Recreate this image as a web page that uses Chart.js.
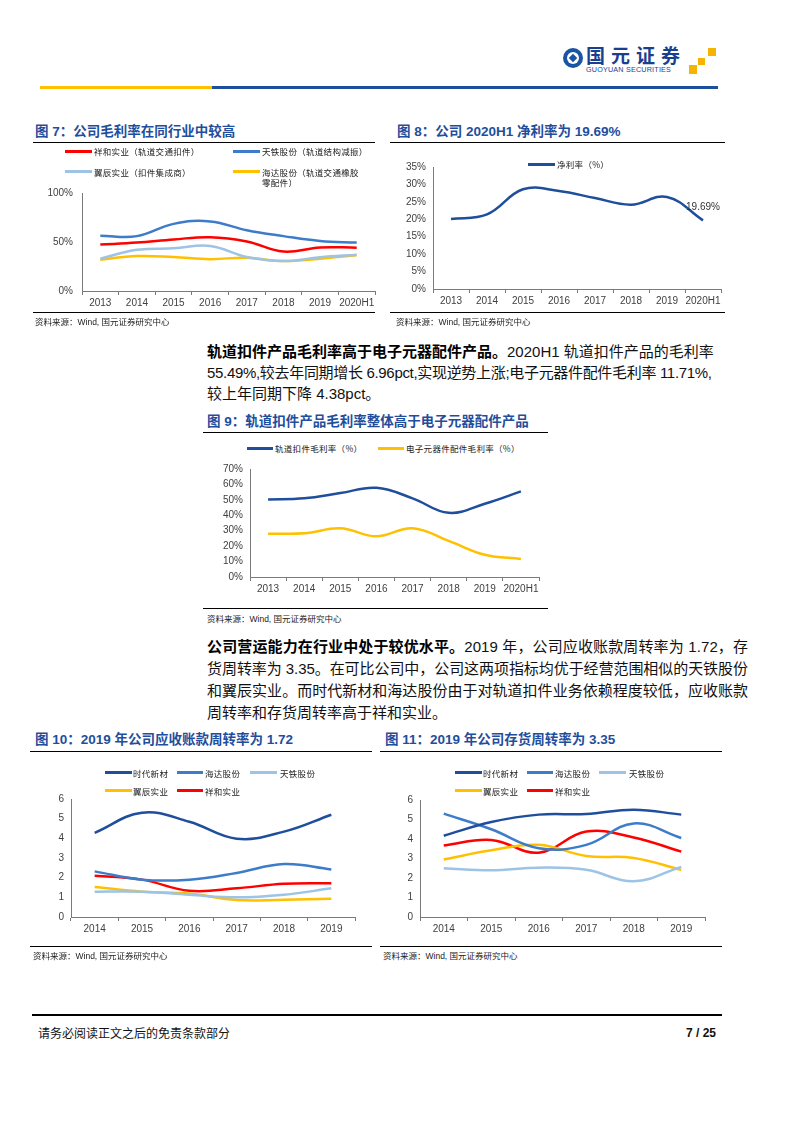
<!DOCTYPE html>
<html><head><meta charset="utf-8">
<script src="https://cdn.jsdelivr.net/npm/chart.js@4"></script>
<style>
html,body{margin:0;padding:0;background:#fff;}
#page{position:relative;width:793px;height:1122px;overflow:hidden;background:#fff;font-family:"Liberation Sans","Noto Sans CJK SC",sans-serif;}
.a{position:absolute;white-space:nowrap;}
.ttl{position:absolute;white-space:nowrap;font-size:13.5px;line-height:16px;font-weight:700;color:#1f4e9c;}
.hl{position:absolute;height:1px;background:#000;}
.src{position:absolute;white-space:nowrap;font-size:8.5px;line-height:10px;color:#222;}
.lg{position:absolute;white-space:nowrap;font-size:8.5px;line-height:10px;color:#222;letter-spacing:0.3px;font-family:"Noto Sans CJK SC","Liberation Sans",sans-serif;}
.ll{position:absolute;height:3px;}
.p{position:absolute;left:207px;font-size:15px;line-height:21px;color:#111;white-space:nowrap;}
.p b{font-weight:700;color:#000;}
.cw{position:absolute;}
</style></head>
<body><div id="page">
<!-- header -->
<div class="a" style="left:563px;top:48px;width:20px;height:20px;border-radius:50%;background:#1a55a5;"></div>
<div class="a" style="left:567px;top:52px;width:12px;height:12px;border-radius:50%;background:#fff;"></div>
<div class="a" style="left:570px;top:55px;width:6px;height:6px;background:#1a55a5;transform:rotate(45deg);"></div>
<div class="a" style="left:586px;top:44px;font-size:19px;line-height:22px;font-weight:700;color:#1a3f8f;letter-spacing:6px;font-family:'Noto Sans CJK SC',sans-serif;">国元证券</div>
<div class="a" style="left:586px;top:66px;font-size:7.2px;line-height:8px;color:#1a3f8f;letter-spacing:0.2px;">GUOYUAN SECURITIES</div>
<div class="a" style="left:708px;top:48px;width:8px;height:8px;background:#f5b400;"></div>
<div class="a" style="left:698px;top:58px;width:7px;height:7px;background:#f5b400;"></div>
<div class="a" style="left:689px;top:65px;width:8px;height:9px;background:#f5b400;"></div>
<div class="a" style="left:40px;top:86px;width:172px;height:2.5px;background:#ffc000;"></div>
<div class="a" style="left:212px;top:86px;width:506px;height:2.5px;background:#1f4e9c;"></div>

<!-- fig 7 -->
<div class="ttl" style="left:35px;top:124px;">图 7：公司毛利率在同行业中较高</div>
<div class="hl" style="left:33px;top:142px;width:342px;"></div>
<div class="hl" style="left:33px;top:312px;width:342px;"></div>
<div class="src" style="left:35px;top:317px;">资料来源：Wind, 国元证券研究中心</div>
<!-- fig 8 -->
<div class="ttl" style="left:397px;top:124px;">图 8：公司 2020H1 净利率为 19.69%</div>
<div class="hl" style="left:390px;top:142px;width:335px;"></div>
<div class="hl" style="left:390px;top:312px;width:335px;"></div>
<div class="src" style="left:396px;top:317px;">资料来源：Wind, 国元证券研究中心</div>

<!-- paragraph 1 -->
<div class="p" style="top:341px;"><b>轨道扣件产品毛利率高于电子元器配件产品。</b>2020H1 轨道扣件产品的毛利率</div>
<div class="p fit" data-w="505" style="top:362px;">55.49%,较去年同期增长 6.96pct,实现逆势上涨;电子元器件配件毛利率 11.71%,</div>
<div class="p" style="top:383px;">较上年同期下降 4.38pct。</div>

<!-- fig 9 -->
<div class="ttl" style="left:207px;top:414px;">图 9：轨道扣件产品毛利率整体高于电子元器配件产品</div>
<div class="hl" style="left:203px;top:432px;width:345px;"></div>
<div class="hl" style="left:203px;top:608px;width:345px;"></div>
<div class="src" style="left:207px;top:614px;">资料来源：Wind, 国元证券研究中心</div>

<!-- paragraph 2 -->
<div class="p fit" data-w="541" style="top:636px;"><b>公司营运能力在行业中处于较优水平。</b>2019 年，公司应收账款周转率为 1.72，存</div>
<div class="p fit" data-w="541" style="top:658px;">货周转率为 3.35。在可比公司中，公司这两项指标均优于经营范围相似的天铁股份</div>
<div class="p fit" data-w="541" style="top:680px;">和翼辰实业。而时代新材和海达股份由于对轨道扣件业务依赖程度较低，应收账款</div>
<div class="p" style="top:702px;">周转率和存货周转率高于祥和实业。</div>

<!-- fig 10 / 11 -->
<div class="ttl" style="left:35px;top:732px;">图 10：2019 年公司应收账款周转率为 1.72</div>
<div class="hl" style="left:30px;top:751px;width:342px;"></div>
<div class="hl" style="left:30px;top:946px;width:342px;"></div>
<div class="src" style="left:33px;top:951px;">资料来源：Wind, 国元证券研究中心</div>
<div class="ttl" style="left:385px;top:732px;">图 11：2019 年公司存货周转率为 3.35</div>
<div class="hl" style="left:380px;top:751px;width:342px;"></div>
<div class="hl" style="left:380px;top:946px;width:342px;"></div>
<div class="src" style="left:383px;top:951px;">资料来源：Wind, 国元证券研究中心</div>

<!-- footer -->
<div class="a" style="left:32px;top:1014px;width:690px;height:2px;background:#000;"></div>
<div class="a" style="left:38px;top:1026px;font-size:12px;line-height:14px;color:#111;font-family:'Noto Sans CJK SC',sans-serif;">请务必阅读正文之后的免责条款部分</div>
<div class="a" style="left:686px;top:1026px;font-size:12px;line-height:14px;font-weight:700;color:#111;">7 / 25</div>
</div>
<script>
// ---------- data ----------
const years8 = ['2013','2014','2015','2016','2017','2018','2019','2020H1'];
const years6 = ['2014','2015','2016','2017','2018','2019'];
// Fig 7 gross margin (%)
const gmXianghe = [47.4, 49.4, 52.6, 54.9, 50.6, 40.3, 44.5, 44.2];
const gmTiantie = [56.5, 56.0, 68.5, 71.0, 62.0, 56.0, 51.0, 49.4];
const gmYichen  = [33.0, 42.0, 43.5, 46.0, 34.7, 30.5, 34.5, 37.0];
const gmHaida   = [32.0, 35.7, 34.7, 32.5, 34.0, 30.5, 33.0, 36.4];
// Fig 8 net margin (%)
const netMargin = [20.1, 21.4, 28.6, 28.1, 26.1, 24.2, 26.4, 19.69];
const netLabel = '19.69%';
// Fig 9 gross margin by product (%)
const gmFastener   = [50.2, 51.0, 54.4, 57.8, 51.0, 41.6, 47.5, 55.49];
const gmElectronic = [28.1, 28.3, 31.6, 26.4, 31.6, 23.4, 14.4, 11.71];
// Fig 10 receivables turnover
const arShidai  = [4.28, 5.30, 4.84, 3.98, 4.34, 5.20];
const arHaida   = [2.32, 1.90, 1.90, 2.24, 2.69, 2.42];
const arTiantie = [1.29, 1.29, 1.13, 1.00, 1.13, 1.46];
const arYichen  = [1.53, 1.29, 1.19, 0.86, 0.88, 0.93];
const arXianghe = [2.10, 1.90, 1.33, 1.46, 1.69, 1.72];
// Fig 11 inventory turnover
const invShidai  = [4.17, 4.87, 5.25, 5.28, 5.50, 5.25];
const invHaida   = [5.30, 4.50, 3.53, 3.70, 4.80, 4.05];
const invTiantie = [2.50, 2.40, 2.53, 2.42, 1.83, 2.57];
const invYichen  = [2.95, 3.42, 3.70, 3.13, 3.03, 2.42];
const invXianghe = [3.67, 3.95, 3.30, 4.38, 4.08, 3.35];
// tick settings
const ticks7 = {max:100, step:50, suffix:'%'};
const ticks8 = {max:35, step:5, suffix:'%'};
const ticks9 = {max:70, step:10, suffix:'%'};
const ticksT = {max:6, step:1, suffix:''};

// ---------- fit justified text lines ----------
document.querySelectorAll('.fit').forEach(el => {
  const target = parseFloat(el.dataset.w);
  const w = el.getBoundingClientRect().width;
  const n = el.textContent.length;
  el.style.letterSpacing = ((target - w) / (n - 1)) + 'px';
});

// ---------- styles ----------
const C = {red:'#ff0000', mid:'#3d7cc9', light:'#9dc3e6', yellow:'#ffc000', dark:'#1f4e9c'};
const AXIS = '#7a7a7a';
const page = document.getElementById('page');

function ds(label, data, color){
  return {label, data, borderColor:color, backgroundColor:color, borderWidth:2.5,
          tension:0.4, pointRadius:0, pointHoverRadius:0, fill:false};
}

function makeChart(box, labels, datasets, tk, yPad, plugins){
  const YW = 50, PT = 10, PR = 25, XH = 24;
  const L = box.l - YW, T = box.t - PT;
  const W = box.r - L + PR, H = box.b - T + XH;
  const wrap = document.createElement('div');
  wrap.className = 'cw';
  wrap.style.left = L + 'px'; wrap.style.top = T + 'px';
  wrap.style.width = W + 'px'; wrap.style.height = H + 'px';
  const cv = document.createElement('canvas');
  cv.width = W; cv.height = H;
  cv.style.width = W + 'px'; cv.style.height = H + 'px';
  wrap.appendChild(cv);
  page.insertBefore(wrap, page.firstChild);
  return new Chart(cv, {
    type:'line',
    data:{labels, datasets},
    options:{
      responsive:false, animation:false, devicePixelRatio:1,
      layout:{padding:{top:PT, right:PR, left:0, bottom:0}},
      plugins:{legend:{display:false}, tooltip:{enabled:false}},
      scales:{
        x:{offset:true,
           grid:{display:true, offset:true, drawOnChartArea:false, drawTicks:true, tickLength:4, color:AXIS},
           border:{display:true, color:AXIS, width:1},
           ticks:{autoSkip:false, maxRotation:0, minRotation:0, padding:2, color:'#404040',
                  font:{family:'Liberation Sans', size:10}},
           afterFit(s){ s.height = XH; }},
        y:{min:0, max:tk.max,
           grid:{display:false, drawTicks:false},
           border:{display:true, color:AXIS, width:1},
           ticks:{stepSize:tk.step, padding:yPad, color:'#404040',
                  font:{family:'Liberation Sans', size:10},
                  callback:(v)=> v + tk.suffix},
           afterFit(s){ s.width = YW; }}
      }
    },
    plugins: plugins || []
  });
}

const endLabel = {
  id:'endLabel',
  afterDatasetsDraw(chart){
    const meta = chart.getDatasetMeta(0);
    const p = meta.data[meta.data.length - 1];
    const ctx = chart.ctx;
    ctx.save();
    ctx.font = '10px "Liberation Sans"';
    ctx.fillStyle = '#333';
    ctx.textAlign = 'center';
    ctx.textBaseline = 'middle';
    ctx.fillText(netLabel, p.x, p.y - 13.5);
    ctx.restore();
  }
};

makeChart({l:82, t:188, r:375, b:291}, years8, [
  ds('祥和实业（轨道交通扣件）', gmXianghe, C.red),
  ds('天铁股份（轨道结构减振）', gmTiantie, C.mid),
  ds('翼辰实业（扣件集成商）', gmYichen, C.light),
  ds('海达股份（轨道交通橡胶零配件）', gmHaida, C.yellow)
], ticks7, 9);

makeChart({l:433, t:164, r:721, b:289}, years8, [
  ds('净利率（%）', netMargin, C.dark)
], ticks8, 7, [endLabel]);

makeChart({l:250, t:466, r:539, b:577}, years8, [
  ds('轨道扣件毛利率（%）', gmFastener, C.dark),
  ds('电子元器件配件毛利率（%）', gmElectronic, C.yellow)
], ticks9, 7);

makeChart({l:71, t:796, r:355, b:917}, years6, [
  ds('时代新材', arShidai, C.dark),
  ds('海达股份', arHaida, C.mid),
  ds('天铁股份', arTiantie, C.light),
  ds('翼辰实业', arYichen, C.yellow),
  ds('祥和实业', arXianghe, C.red)
], ticksT, 7);

makeChart({l:420, t:797, r:705, b:917}, years6, [
  ds('时代新材', invShidai, C.dark),
  ds('海达股份', invHaida, C.mid),
  ds('天铁股份', invTiantie, C.light),
  ds('翼辰实业', invYichen, C.yellow),
  ds('祥和实业', invXianghe, C.red)
], ticksT, 7);

// ---------- HTML legends ----------
function leg(x1, x2, y, color, tx, text){
  const l = document.createElement('div');
  l.className = 'll';
  l.style.left = x1 + 'px'; l.style.top = (y - 1.5) + 'px';
  l.style.width = (x2 - x1) + 'px'; l.style.background = color;
  page.appendChild(l);
  const t = document.createElement('div');
  t.className = 'lg';
  t.style.left = tx + 'px'; t.style.top = (y - 5) + 'px';
  t.innerHTML = text;
  page.appendChild(t);
}
// fig 7
leg(65, 92, 151, C.red, 94, '祥和实业（轨道交通扣件）');
leg(233, 260, 151, C.mid, 262, '天铁股份（轨道结构减振）');
leg(65, 92, 171.5, C.light, 94, '翼辰实业（扣件集成商）');
leg(233, 260, 171.5, C.yellow, 262, '海达股份（轨道交通橡胶<br>零配件）');
// fig 8
leg(528, 555, 164, C.dark, 557, '净利率（%）');
// fig 9
leg(247, 273, 448, C.dark, 275, '轨道扣件毛利率（%）');
leg(378, 404, 448, C.yellow, 406, '电子元器件配件毛利率（%）');
// fig 10
leg(105, 132, 772.5, C.dark, 133, '时代新材');
leg(177, 203, 772.5, C.mid, 205, '海达股份');
leg(250, 277, 772.5, C.light, 280, '天铁股份');
leg(105, 132, 790.5, C.yellow, 133, '翼辰实业');
leg(177, 203, 790.5, C.red, 205, '祥和实业');
// fig 11
leg(455, 482, 772.5, C.dark, 483, '时代新材');
leg(527, 553, 772.5, C.mid, 555, '海达股份');
leg(599, 626, 772.5, C.light, 629, '天铁股份');
leg(455, 482, 790.5, C.yellow, 483, '翼辰实业');
leg(527, 553, 790.5, C.red, 555, '祥和实业');
</script>
</body></html>
